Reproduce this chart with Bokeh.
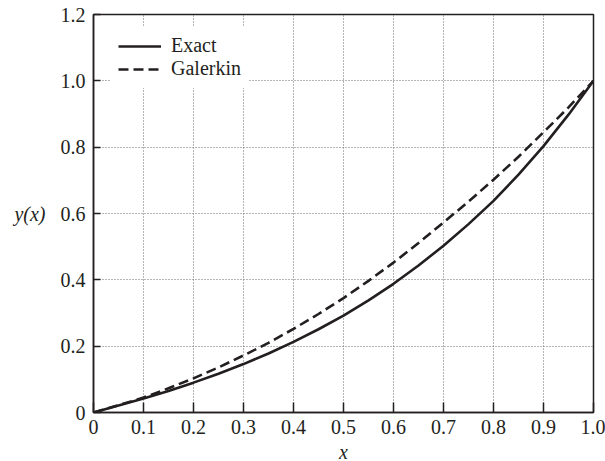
from bokeh.plotting import figure
from bokeh.models import Range1d, FixedTicker, Legend, LegendItem
from bokeh.embed import file_html
from bokeh.resources import INLINE

# ---- data ----
x_vals = [0.0, 0.05, 0.1, 0.15, 0.2, 0.25, 0.3, 0.35, 0.4, 0.45, 0.5,
          0.55, 0.6, 0.65, 0.7, 0.75, 0.8, 0.85, 0.9, 0.95, 1.0]
exact = [0.0, 0.021, 0.042, 0.065, 0.090, 0.117, 0.146, 0.178, 0.213, 0.251, 0.292,
         0.338, 0.388, 0.443, 0.503, 0.568, 0.638, 0.717, 0.803, 0.898, 1.0]
galerkin = [0.0, 0.022, 0.045, 0.073, 0.103, 0.136, 0.172, 0.210, 0.252, 0.297, 0.345,
            0.397, 0.452, 0.511, 0.573, 0.636, 0.702, 0.771, 0.845, 0.920, 1.0]

x_ticks = [0.0, 0.1, 0.2, 0.3, 0.4, 0.5, 0.6, 0.7, 0.8, 0.9, 1.0]
x_tick_labels = ["0", "0.1", "0.2", "0.3", "0.4", "0.5", "0.6", "0.7", "0.8", "0.9", "1.0"]
y_ticks = [0.0, 0.2, 0.4, 0.6, 0.8, 1.0, 1.2]
y_tick_labels = ["0", "0.2", "0.4", "0.6", "0.8", "1.0", "1.2"]

FONT = "Liberation Serif"
INK = "#231f20"
FS = "20px"

p = figure(frame_width=500, frame_height=398,
           x_range=Range1d(0, 1), y_range=Range1d(0, 1.2),
           output_backend="svg", toolbar_location=None,
           min_border_left=93, min_border_right=12,
           min_border_top=14, min_border_bottom=49,
           background_fill_color="white", border_fill_color="white")

p.outline_line_color = INK
p.outline_line_width = 1.5
p.outline_line_alpha = 1.0

for ax in (p.xaxis[0], p.yaxis[0]):
    ax.axis_line_color = INK
    ax.axis_line_width = 1.5
    ax.major_tick_line_color = INK
    ax.major_tick_line_width = 1.5
    ax.major_tick_out = 0
    ax.minor_tick_line_color = None
    ax.major_label_text_font = FONT
    ax.major_label_text_font_size = FS
    ax.major_label_text_color = INK
    ax.axis_label_text_font = FONT
    ax.axis_label_text_font_style = "italic"
    ax.axis_label_text_font_size = FS
    ax.axis_label_text_color = INK

p.xaxis.ticker = FixedTicker(ticks=x_ticks)
p.yaxis.ticker = FixedTicker(ticks=y_ticks)
p.xaxis.major_label_overrides = {t: l for t, l in zip(x_ticks, x_tick_labels)}
p.yaxis.major_label_overrides = {t: l for t, l in zip(y_ticks, y_tick_labels)}
p.xaxis.major_tick_in = 10
p.yaxis.major_tick_in = 7
p.xaxis.major_label_standoff = 7
p.yaxis.major_label_standoff = 8

p.xaxis.axis_label = "x"
p.xaxis.axis_label_standoff = 4
p.yaxis.axis_label = "y(x)"
p.yaxis.axis_label_orientation = "horizontal"
p.yaxis.axis_label_standoff = 12

for g in (p.xgrid[0], p.ygrid[0]):
    g.grid_line_color = "#6d6d6d"
    g.grid_line_dash = "1 2"
    g.grid_line_width = 1

r_exact = p.line(x_vals, exact, line_color=INK, line_width=2.6)
r_gal = p.line(x_vals, galerkin, line_color=INK, line_width=2.6, line_dash="10 5")

legend = Legend(items=[LegendItem(label="Exact", renderers=[r_exact]),
                       LegendItem(label="Galerkin", renderers=[r_gal])],
                location=(17, 324), margin=0, padding=8, spacing=0,
                glyph_width=43, glyph_height=20, label_height=20,
                label_standoff=10,
                label_text_font=FONT, label_text_font_size=FS,
                label_text_color=INK,
                background_fill_color="white", background_fill_alpha=1.0,
                border_line_alpha=0)
p.add_layout(legend, "center")

open("out.html", "w").write(file_html(p, INLINE))
